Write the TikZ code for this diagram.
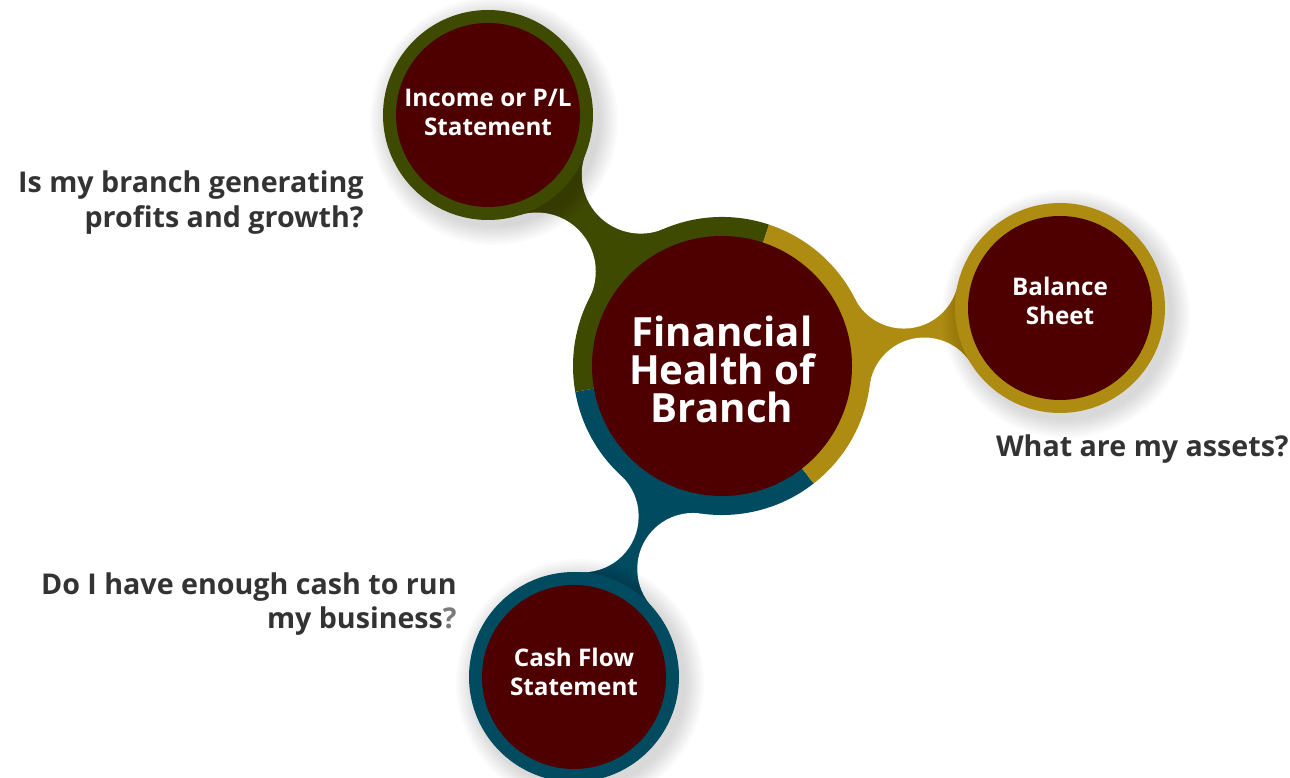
\documentclass[tikz,border=0pt]{standalone}
\usepackage{fontspec}
\setmainfont{Open Sans}
\usetikzlibrary{calc}

\definecolor{branchred}{HTML}{4E0000}
\definecolor{incomegreen}{HTML}{3E4A00}
\definecolor{balancegold}{HTML}{AE8C12}
\definecolor{cashteal}{HTML}{004B60}
\definecolor{asktext}{HTML}{333333}
\definecolor{askgray}{HTML}{7A7A7A}

% neck between two rings: centre, radius, centre, radius, carving radius, colour
\newcommand{\neck}[6]{%
  \path let \p1=(#1), \p2=(#3),
      \n1={veclen(\x2-\x1,\y2-\y1)/10},
      \n2={(#2+#5)*0.0569056},
      \n3={(#4+#5)*0.0569056},
      \n4={(\n2*\n2-\n3*\n3+\n1*\n1)/(2*\n1)},
      \n5={sqrt(\n2*\n2-\n4*\n4)}
    in ($(#1)!{\n4*10pt}!(#3)!{\n5*10pt}!90:(#3)$) coordinate (#1-#3-l)
       ($(#1)!{\n4*10pt}!(#3)!{\n5*10pt}!-90:(#3)$) coordinate (#1-#3-r);
  \fill[#6] (#1) -- (#1-#3-l) -- (#3) -- (#1-#3-r) -- cycle;
  \fill[white] (#1-#3-l) circle (#5) (#1-#3-r) circle (#5);
}

\begin{document}
\begin{tikzpicture}[x=0.02cm, y=0.02cm,
  hub/.style={text=white, font=\bfseries\fontsize{22.9}{21.6}\selectfont, align=center},
  leaf/.style={text=white, font=\bfseries\fontsize{13.8}{16.5}\selectfont, align=center},
  ask/.style={text=asktext, font=\bfseries\fontsize{16.3}{19.6}\selectfont, align=right, inner sep=0pt}]
\useasboundingbox (0,0) rectangle (1290,777);

\coordinate (fin) at (722,411);
\coordinate (income) at (488,662);
\coordinate (balance) at (1060,469);
\coordinate (cash) at (574,100);

% necks
\neck{income}{105}{fin}{149}{59}{incomegreen}
\neck{balance}{105}{fin}{149}{55}{balancegold}
\neck{cash}{105}{fin}{149}{56}{cashteal}

% soft shadows
\foreach \sat in {income,balance,cash}
  \foreach \s in {1,...,10}
    \fill[black,opacity=.016] ($(\sat)+(6,-6)$) circle (104+2*\s);

% ring of the middle circle
\fill[incomegreen] (fin) -- ++(71.6:149) arc[start angle=71.6, end angle=190, radius=149] -- cycle;
\fill[cashteal] (fin) -- ++(190:149) arc[start angle=190, end angle=308, radius=149] -- cycle;
\fill[balancegold] (fin) -- ++(308:149) arc[start angle=308, end angle=431.6, radius=149] -- cycle;
\fill[branchred] (fin) circle (130);

\fill[incomegreen] (income) circle (105);
\fill[branchred] (income) circle (92);
\fill[balancegold] (balance) circle (105);
\fill[branchred] (balance) circle (92);
\fill[cashteal] (cash) circle (105);
\fill[branchred] (cash) circle (92);

\node[hub] (fin-lbl) at ($(fin)+(0,-3)$) {Financial\\Health of\\Branch};
\node[leaf] (income-lbl) at ($(income)+(0,3)$) {Income or P/L\\Statement};
\node[leaf] (balance-lbl) at ($(balance)+(0,7)$) {Balance\\Sheet};
\node[leaf] (cash-lbl) at ($(cash)+(0,5)$) {Cash Flow\\Statement};

\node[ask, anchor=east] (ask-income) at (364,574.5) {Is my branch generating\\profits and growth?};
\node[ask, anchor=east] (ask-balance) at (1289,328) {What are my assets?};
\node[ask, anchor=east] (ask-cash) at (457,173) {Do I have enough cash to run\\my business{\color{askgray}?}};
\end{tikzpicture}
\end{document}
